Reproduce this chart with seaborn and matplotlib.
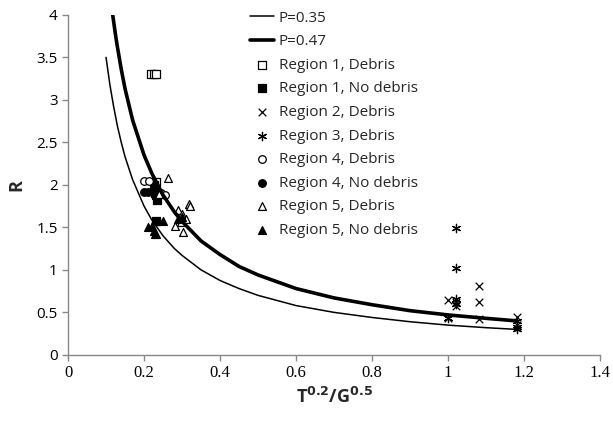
import matplotlib
matplotlib.use("Agg")
import matplotlib.pyplot as plt
import seaborn as sns
import pandas as pd

sns.set_theme(style="white")
plt.rcParams['font.family'] = ['Open Sans', 'DejaVu Sans']

# Curves
curve_x_035 = [0.10, 0.11, 0.12, 0.13, 0.14, 0.15, 0.17, 0.20, 0.22, 0.25, 0.28, 0.30,
               0.35, 0.40, 0.45, 0.50, 0.60, 0.70, 0.80, 0.90, 1.00, 1.10, 1.18]
curve_r_035 = [3.50, 3.18, 2.92, 2.69, 2.50, 2.33, 2.06, 1.75, 1.59, 1.40, 1.25, 1.17,
               1.00, 0.875, 0.78, 0.70, 0.58, 0.50, 0.44, 0.39, 0.35, 0.32, 0.30]
curve_x_047 = [0.1175, 0.125, 0.13, 0.14, 0.15, 0.17, 0.20, 0.22, 0.25, 0.28, 0.30,
               0.35, 0.40, 0.45, 0.50, 0.60, 0.70, 0.80, 0.90, 1.00, 1.10, 1.18]
curve_r_047 = [4.00, 3.76, 3.62, 3.36, 3.13, 2.76, 2.35, 2.14, 1.88, 1.68, 1.57,
               1.34, 1.18, 1.04, 0.94, 0.78, 0.67, 0.59, 0.52, 0.47, 0.43, 0.40]

# Scatter series
r1_deb_x = [0.218, 0.225, 0.232, 0.232]
r1_deb_y = [3.30, 3.30, 3.30, 2.03]
r1_nod_x = [0.225, 0.230, 0.232, 0.235, 0.228, 0.232]
r1_nod_y = [2.00, 1.95, 1.88, 1.82, 1.90, 1.58]
r2_deb_x = [1.00, 1.00, 1.02, 1.02, 1.08, 1.08, 1.08, 1.18, 1.18]
r2_deb_y = [0.65, 0.43, 0.62, 0.57, 0.81, 0.62, 0.42, 0.45, 0.35]
r3_deb_x = [1.02, 1.02, 1.02, 1.02, 1.18, 1.18, 1.18, 1.00]
r3_deb_y = [1.49, 1.02, 0.66, 0.60, 0.40, 0.33, 0.30, 0.43]
r4_deb_x = [0.200, 0.212, 0.245, 0.255]
r4_deb_y = [2.05, 2.05, 1.90, 1.88]
r4_nod_x = [0.200, 0.210]
r4_nod_y = [1.92, 1.92]
r5_deb_x = [0.262, 0.282, 0.290, 0.300, 0.302, 0.310, 0.318, 0.322, 0.232, 0.296, 0.240]
r5_deb_y = [2.08, 1.52, 1.70, 1.66, 1.45, 1.60, 1.77, 1.75, 1.42, 1.56, 1.89]
r5_nod_x = [0.210, 0.220, 0.230, 0.240, 0.250, 0.225, 0.290, 0.300, 0.228]
r5_nod_y = [1.50, 1.52, 1.58, 1.58, 1.58, 1.46, 1.60, 1.62, 1.42]

fig = plt.figure(figsize=(6.13, 4.24), dpi=100)
ax = fig.add_axes([0.111, 0.163, 0.868, 0.802])

sns.lineplot(x=curve_x_035, y=curve_r_035, ax=ax, color='black', lw=1.1,
             label='P=0.35', sort=False)
sns.lineplot(x=curve_x_047, y=curve_r_047, ax=ax, color='black', lw=2.6,
             label='P=0.47', sort=False)

series = [
    (r1_deb_x, r1_deb_y, 's', 'none', 'Region 1, Debris', 28),
    (r1_nod_x, r1_nod_y, 's', 'black', 'Region 1, No debris', 28),
    (r2_deb_x, r2_deb_y, 'x', 'black', 'Region 2, Debris', 30),
    (r3_deb_x, r3_deb_y, (6, 2, 0), 'black', 'Region 3, Debris', 36),
    (r4_deb_x, r4_deb_y, 'o', 'none', 'Region 4, Debris', 30),
    (r4_nod_x, r4_nod_y, 'o', 'black', 'Region 4, No debris', 30),
    (r5_deb_x, r5_deb_y, '^', 'none', 'Region 5, Debris', 32),
    (r5_nod_x, r5_nod_y, '^', 'black', 'Region 5, No debris', 32),
]
for xs, ys, mk, fc, lab, sz in series:
    if fc == 'none':
        sns.scatterplot(x=xs, y=ys, ax=ax, marker=mk, s=sz, facecolors='white',
                        edgecolor='black', linewidth=0.9, label=lab)
    else:
        sns.scatterplot(x=xs, y=ys, ax=ax, marker=mk, s=sz, color='black',
                        edgecolor='black', linewidth=0.9, label=lab)

ax.set_xlim(0, 1.4)
ax.set_ylim(0, 4)
ax.set_xticks([0, 0.2, 0.4, 0.6, 0.8, 1.0, 1.2, 1.4])
ax.set_xticklabels(['0', '0.2', '0.4', '0.6', '0.8', '1', '1.2', '1.4'],
                   family='Liberation Serif', fontsize=12)
ax.set_yticks([0, 0.5, 1, 1.5, 2, 2.5, 3, 3.5, 4])
ax.set_yticklabels(['0', '0.5', '1', '1.5', '2', '2.5', '3', '3.5', '4'], fontsize=11)
for s in ['top', 'right']:
    ax.spines[s].set_visible(False)
for s in ['left', 'bottom']:
    ax.spines[s].set_color('#888888')
    ax.spines[s].set_linewidth(1.0)
ax.tick_params(axis='both', direction='out', length=4, width=1,
               left=True, bottom=True, labelcolor='black', color='#888888')

ax.set_xlabel(r'T$^{\mathbf{0.2}}$/G$^{\mathbf{0.5}}$', fontsize=13, fontweight='bold', labelpad=4)
ax.set_ylabel('R', fontsize=13, fontweight='bold', labelpad=8)

leg = ax.legend(loc='upper left', bbox_to_anchor=(0.33, 1.03), frameon=False,
                fontsize=11, labelspacing=0.56, handlelength=1.6, handletextpad=0.3,
                borderaxespad=0)

fig.savefig('out.png', dpi=100)
